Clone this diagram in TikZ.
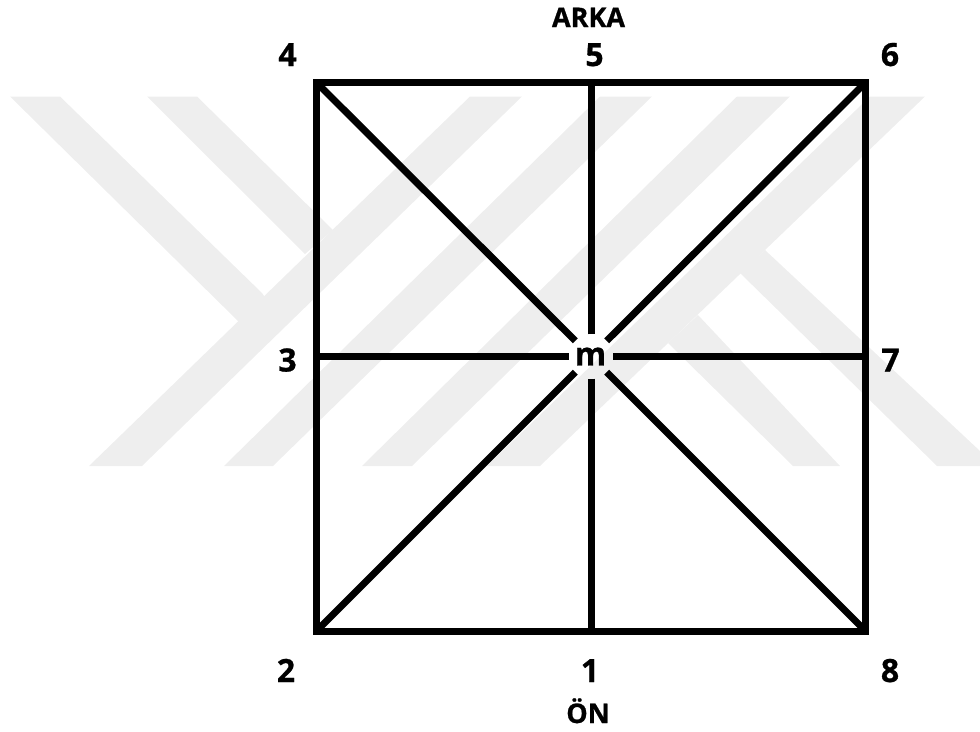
\documentclass[tikz,border=0pt]{standalone}
\usepackage{fontspec}
\setmainfont[BoldFeatures={FakeBold=0.8}]{Open Sans}
\definecolor{wm}{HTML}{EEEEEE}
\tikzset{
  wmark/.style={fill=wm,draw=none},
  edge/.style={line width=7pt,black},
  digit/.style={anchor=base,inner sep=0pt,font=\fontsize{32}{34}\selectfont\bfseries},
  side/.style={anchor=base,inner sep=0pt,font=\fontsize{27}{29}\selectfont\bfseries},
  hub/.style={circle,minimum size=44pt,inner sep=0pt,font=\fontsize{32}{34}\selectfont\bfseries}
}
\begin{document}
\begin{tikzpicture}[x=1pt,y=-1pt]
\useasboundingbox (0,0) rectangle (980,731);
% watermark
\fill[wmark] (10,96.5)--(60,96.5)--(262,293)--(280,320)--(239,322)--cycle;
\fill[wmark] (147,96.5)--(197,96.5)--(333,230)--(305,254)--cycle;
\fill[wmark] (89,466)--(142,466)--(522,96.5)--(470,96.5)--cycle;
\fill[wmark] (224,466)--(273,466)--(652,96.5)--(600,96.5)--cycle;
\fill[wmark] (362,466)--(412,466)--(790,96.5)--(737,96.5)--cycle;
\fill[wmark] (487,466)--(540,466)--(925,96.5)--(870,96.5)--cycle;
\fill[wmark] (740,273)--(765,250)--(980,451)--(980,466)--(937,466)--cycle;
\fill[wmark] (668,343)--(698,315)--(840,466)--(793,466)--cycle;
% corners and side midpoints
\coordinate (c4) at (316.5,82.5);
\coordinate (c5) at (591,82.5);
\coordinate (c6) at (865.5,82.5);
\coordinate (c7) at (865.5,356.5);
\coordinate (c8) at (865.5,631);
\coordinate (c1) at (591,631);
\coordinate (c2) at (316.5,631);
\coordinate (c3) at (316.5,356.5);
\node[hub] (m) at (591,356.5) {\raisebox{-3pt}{m}\kern1pt};
\draw[edge] (m) -- (c5);
\draw[edge] (m) -- (c1);
\draw[edge] (m) -- (c3);
\draw[edge] (m) -- (c7);
\draw[edge] (m) -- (c4);
\draw[edge] (m) -- (c6);
\draw[edge] (m) -- (c8);
\draw[edge] (m) -- (c2);
\draw[edge] (c4) -- (c6) -- (c8) -- (c2) -- cycle;
% labels
\node[digit] (l4) at (287.5,66) {4};
\node[digit] (l5) at (594.5,66) {5};
\node[digit] (l6) at (890,66) {6};
\node[digit] (l3) at (287.5,371.5) {3};
\node[digit] (l7) at (890.5,371.5) {7};
\node[digit] (l2) at (286,682) {2};
\node[digit] (l1) at (590,682) {1};
\node[digit] (l8) at (890,682) {8};
\node[side] (arka) at (588.5,27) {ARKA};
\node[side] (on) at (588,723) {ÖN};
\end{tikzpicture}
\end{document}
